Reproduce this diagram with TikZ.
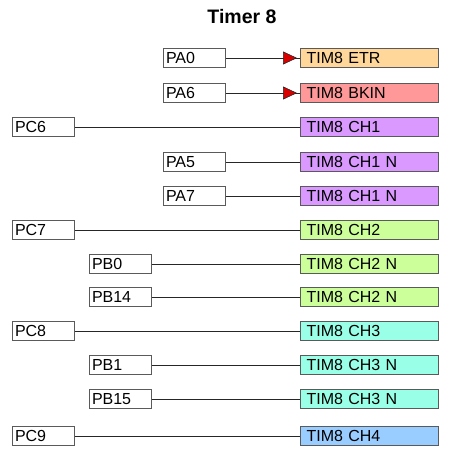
\documentclass[tikz,border=0pt]{standalone}
\usepackage{fontspec}
\setmainfont{Liberation Sans}
\usetikzlibrary{arrows.meta,calc}
\definecolor{cetr}{RGB}{255,215,155}
\definecolor{cbk}{RGB}{255,153,153}
\definecolor{cch1}{RGB}{217,153,255}
\definecolor{cch2}{RGB}{204,255,153}
\definecolor{cch3}{RGB}{153,255,230}
\definecolor{cch4}{RGB}{153,204,255}
\definecolor{bord}{RGB}{90,90,90}
\tikzset{
  pin/.style={draw=bord, line width=1pt, fill=white, anchor=west, minimum height=19pt,
    inner xsep=2.5pt, inner ysep=0pt, text width=57pt, align=left, font=\fontsize{16}{17}\selectfont},
  tim/.style={draw=bord, line width=1.2pt, anchor=west, minimum height=19pt,
    inner xsep=6pt, inner ysep=0pt, text width=126pt, align=left, font=\fontsize{16}{17}\selectfont},
  wire/.style={line width=0.9pt, draw=black!85},
  tri/.style={-{Triangle[width=13pt,length=14pt,fill=red!85!black,line width=0.6pt]}, wire}
}
\begin{document}
\begin{tikzpicture}[x=1pt,y=-1pt]
\useasboundingbox (0,0) rectangle (449,454);
\node[font=\bfseries\fontsize{19.5}{20}\selectfont] (title) at (242,17) {Timer 8};
% right boxes
\node[tim, fill=cetr] (etr) at (300,58) {TIM8 ETR};
\node[tim, fill=cbk] (bkin) at (300,93) {TIM8 BKIN};
\node[tim, fill=cch1] (ch1) at (300,127) {TIM8 CH1};
\node[tim, fill=cch1] (ch1na) at (300,162) {TIM8 CH1 N};
\node[tim, fill=cch1] (ch1nb) at (300,196) {TIM8 CH1 N};
\node[tim, fill=cch2] (ch2) at (300,230) {TIM8 CH2};
\node[tim, fill=cch2] (ch2na) at (300,264) {TIM8 CH2 N};
\node[tim, fill=cch2] (ch2nb) at (300,297) {TIM8 CH2 N};
\node[tim, fill=cch3] (ch3) at (300,331) {TIM8 CH3};
\node[tim, fill=cch3] (ch3na) at (300,365) {TIM8 CH3 N};
\node[tim, fill=cch3] (ch3nb) at (300,399) {TIM8 CH3 N};
\node[tim, fill=cch4] (ch4) at (300,436) {TIM8 CH4};
% left boxes
\node[pin] (pa0) at (163,58) {PA0};
\node[pin] (pa6) at (163,93) {PA6};
\node[pin] (pc6) at (12,127) {PC6};
\node[pin] (pa5) at (163,162) {PA5};
\node[pin] (pa7) at (163,196) {PA7};
\node[pin] (pc7) at (12,230) {PC7};
\node[pin] (pb0) at (89,264) {PB0};
\node[pin] (pb14) at (89,297) {PB14};
\node[pin] (pc8) at (12,331) {PC8};
\node[pin] (pb1) at (89,365) {PB1};
\node[pin] (pb15) at (89,399) {PB15};
\node[pin] (pc9) at (12,436) {PC9};
% connectors
\draw[wire] (pa0.east) -- (etr.west);
\draw[tri] (pa0.east) -- ($(etr.west)+(-3,0)$);
\draw[wire] (pa6.east) -- (bkin.west);
\draw[tri] (pa6.east) -- ($(bkin.west)+(-3,0)$);
\draw[wire] (pc6.east) -- (ch1.west);
\draw[wire] (pa5.east) -- (ch1na.west);
\draw[wire] (pa7.east) -- (ch1nb.west);
\draw[wire] (pc7.east) -- (ch2.west);
\draw[wire] (pb0.east) -- (ch2na.west);
\draw[wire] (pb14.east) -- (ch2nb.west);
\draw[wire] (pc8.east) -- (ch3.west);
\draw[wire] (pb1.east) -- (ch3na.west);
\draw[wire] (pb15.east) -- (ch3nb.west);
\draw[wire] (pc9.east) -- (ch4.west);
\end{tikzpicture}
\end{document}
